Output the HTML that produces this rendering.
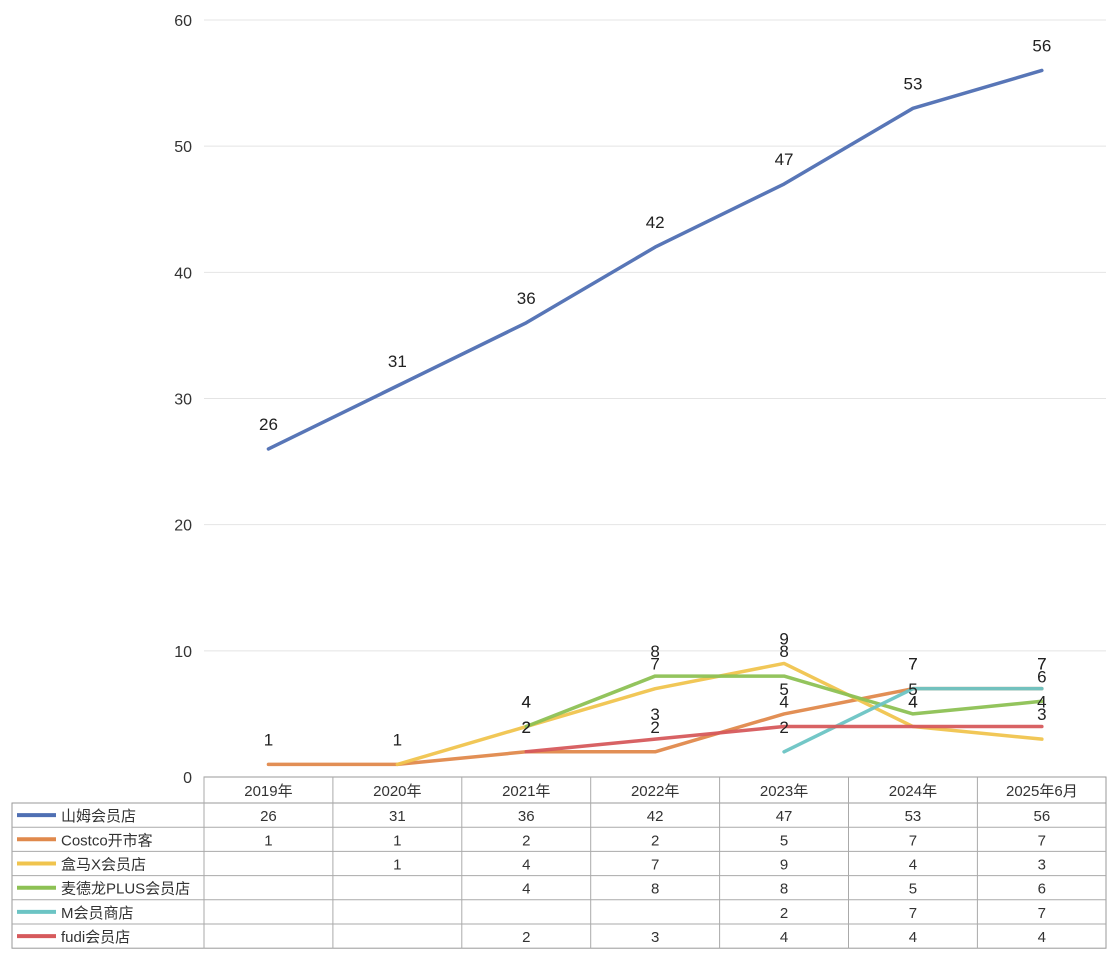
<!DOCTYPE html>
<html><head><meta charset="utf-8"><style>
body{margin:0;background:#fff;}
svg text{font-family:"Liberation Sans","Noto Sans CJK SC",sans-serif;}
</style></head><body>
<svg id="chart" width="1110" height="963" xmlns="http://www.w3.org/2000/svg"></svg>
<script>
const categories=["2019年","2020年","2021年","2022年","2023年","2024年","2025年6月"];
const seriesNames=["山姆会员店","Costco开市客","盒马X会员店","麦德龙PLUS会员店","M会员商店","fudi会员店"];
const samValues=[26,31,36,42,47,53,56];
const costcoValues=[1,1,2,2,5,7,7];
const hemaValues=[null,1,4,7,9,4,3];
const metroValues=[null,null,4,8,8,5,6];
const mValues=[null,null,null,null,2,7,7];
const fudiValues=[null,null,2,3,4,4,4];
const yTicks=[0,10,20,30,40,50,60];
const allSeries=[samValues,costcoValues,hemaValues,metroValues,mValues,fudiValues];
const colors=["#4f6fb3","#e0894c","#f0c44e","#8dc154","#6cc4c4","#d65a5c"];
const ns="http://www.w3.org/2000/svg";
const svg=document.getElementById('chart');
const x0=204,colW=128.9,yZero=777,yTop=20;
const xScale=i=>x0+colW*(i+0.5);
const yScale=v=>yZero-(v/60)*(yZero-yTop);
function mk(tag,attrs,parent){const e=document.createElementNS(ns,tag);for(const k in attrs)e.setAttribute(k,attrs[k]);(parent||svg).appendChild(e);return e;}
yTicks.forEach(t=>{
  const y=yScale(t);
  if(t>0){const g=mk('line',{x1:204,x2:1106,y1:y,y2:y,stroke:'#e4e4e4','stroke-width':1});
  
  }
  const tx=mk('text',{x:192,y:y+6,'text-anchor':'end','font-size':16,fill:'#333'});
  tx.textContent=t;
  
  
});
allSeries.forEach((vals,s)=>{
  let d='';
  vals.forEach((v,i)=>{if(v==null)return;d+=(d?'L':'M')+xScale(i)+','+yScale(v);});
  const p=mk('path',{d:d,fill:'none',stroke:colors[s],'stroke-width':3.5,'stroke-linejoin':'round','stroke-linecap':'round',opacity:0.95});
  
  
});
allSeries.forEach((vals,s)=>{
  vals.forEach((v,i)=>{
    if(v==null)return;
    if(s===2 && i===1) return;
    const t=mk('text',{x:xScale(i),y:yScale(v)-19,'text-anchor':'middle','font-size':17,fill:'#222'});
    t.textContent=v;
    
    
  });
});
const tg=mk('g',{});


const rowTop=803,rowH=24.2,headTop=777,left=12,right=1106;
const bottom=rowTop+rowH*6;
mk('rect',{x:x0,y:headTop,width:right-x0,height:rowTop-headTop,fill:'none',stroke:'#999','stroke-width':1},tg);
mk('rect',{x:left,y:rowTop,width:right-left,height:bottom-rowTop,fill:'none',stroke:'#999','stroke-width':1},tg);
for(let r=1;r<6;r++)mk('line',{x1:left,x2:right,y1:rowTop+r*rowH,y2:rowTop+r*rowH,stroke:'#aaa','stroke-width':1},tg);
for(let c=0;c<7;c++)mk('line',{x1:x0+c*colW,x2:x0+c*colW,y1:headTop,y2:bottom,stroke:'#aaa','stroke-width':1},tg);
categories.forEach((c,i)=>{
  const t=mk('text',{x:xScale(i),y:headTop+19,'text-anchor':'middle','font-size':15,fill:'#333'},tg);
  t.textContent=c;
  
  
});
seriesNames.forEach((n,s)=>{
  const yc=rowTop+rowH*s+rowH/2;
  const l=mk('line',{x1:17,x2:56,y1:yc,y2:yc,stroke:colors[s],'stroke-width':4},tg);
  
  
  const t=mk('text',{x:61,y:yc+6,'font-size':15,fill:'#333'},tg);
  t.textContent=n;
  
  
  allSeries[s].forEach((v,i)=>{
    if(v==null)return;
    const c=mk('text',{x:xScale(i),y:yc+6,'text-anchor':'middle','font-size':15,fill:'#333'},tg);
    c.textContent=v;
    
    
  });
});
</script>
</body></html>
